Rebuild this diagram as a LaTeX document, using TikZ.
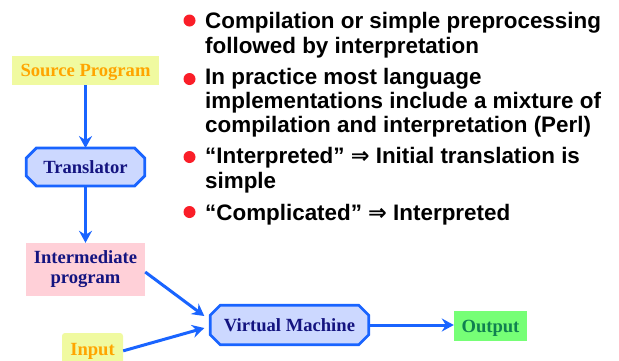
\documentclass[tikz,border=0pt]{standalone}
\usepackage{fontspec}
\setmainfont{Liberation Serif}
\newfontfamily\arialfont{Liberation Sans}
\newfontfamily\dejafont{DejaVu Sans}
\usetikzlibrary{arrows.meta,backgrounds}
\definecolor{lineblue}{RGB}{25,100,255}
\definecolor{boxblue}{RGB}{204,216,255}
\definecolor{navy}{RGB}{20,20,128}
\definecolor{srcyellow}{RGB}{240,250,160}
\definecolor{srcorange}{RGB}{255,165,0}
\definecolor{pinkfill}{RGB}{255,208,216}
\definecolor{greenfill}{RGB}{118,255,118}
\definecolor{greentext}{RGB}{16,128,80}
\definecolor{bulletred}{RGB}{250,30,40}
\newcommand{\implarrow}{{\dejafont\bfseries ⇒}}
\newcommand{\octdraw}[1]{%
  \filldraw[octline] ([xshift=10pt]#1.north west) -- ([xshift=-10pt]#1.north east)
    -- ([yshift=-10pt]#1.north east) -- ([yshift=10pt]#1.south east)
    -- ([xshift=-10pt]#1.south east) -- ([xshift=10pt]#1.south west)
    -- ([yshift=10pt]#1.south west) -- ([yshift=-10pt]#1.north west) -- cycle;}
\begin{document}
\begin{tikzpicture}[x=1pt,y=-1pt,
 boxfont/.style={font=\fontsize{18.6}{20}\selectfont\bfseries},
 plainbox/.style={boxfont, inner sep=0pt, align=center},
 onebox/.style={plainbox, text height=12.3pt, text depth=0pt},
 octbox/.style={onebox, text=navy},
 octline/.style={draw=lineblue, line width=2.8pt, fill=boxblue, line join=miter},
 flow/.style={draw=lineblue, line width=3pt, -{Stealth[length=12pt,width=13pt,inset=4pt]}},
 bullettext/.style={font=\arialfont\fontsize{22.4}{24}\selectfont\bfseries, anchor=base west, inner sep=0pt},
 bulletdot/.style={circle, fill=bulletred, minimum size=12pt, inner sep=0pt}
]
\useasboundingbox (0,0) rectangle (619,360);
\clip (0,0) rectangle (619,360);

\node[onebox, fill=srcyellow, text=srcorange, minimum width=147pt, minimum height=29pt] (src) at (85.5,70.5) {Source Program};
\node[octbox, minimum width=118pt, minimum height=37.5pt] (trans) at (85.5,167) {Translator};
\node[plainbox, fill=pinkfill, text=navy, minimum width=119pt, minimum height=53pt] (inter) at (85.5,269.5) {Intermediate\\program};
\node[onebox, fill=srcyellow, text=srcorange, rounded corners=3pt, minimum width=61pt, minimum height=32.7pt] (inp) at (92.5,349.35) {Input};
\node[octbox, minimum width=158pt, minimum height=39.2pt] (vm) at (289.5,325) {Virtual Machine};
\node[onebox, fill=greenfill, text=greentext, minimum width=73pt, minimum height=30pt] (out) at (490.5,326) {Output};

\begin{scope}[on background layer]
  \fill[white] (0,0) rectangle (619,360);
  \octdraw{trans}
  \octdraw{vm}
\end{scope}

\draw[flow] (src) -- (trans);
\draw[flow] (trans) -- (inter);
\draw[flow] ([shift={(0,2.5)}]inter.east) -- ([shift={(-6,-9)}]vm.west);
\draw[flow] ([shift={(0,1.5)}]inp.east) -- ([shift={(-6,3)}]vm.west);
\draw[flow] (vm.east) -- (vm.east -| out.west);

\node[bulletdot] (b1) at (189.5,20.5) {};
\node[bulletdot] (b2) at (189.5,79) {};
\node[bulletdot] (b3) at (189.5,157) {};
\node[bulletdot] (b4) at (189.5,212) {};

\node[bullettext] (t1) at (205,28.3) {Compilation or simple preprocessing};
\node[bullettext] (t2) at (205,53.3) {followed by interpretation};
\node[bullettext] (t3) at (205,84.3) {In practice most language};
\node[bullettext] (t4) at (205,108.3) {implementations include a mixture of};
\node[bullettext] (t5) at (205,132.7) {compilation and interpretation (Perl)};
\node[bullettext] (t6) at (205,163.3) {“Interpreted” \implarrow{} Initial translation is};
\node[bullettext] (t7) at (205,188.3) {simple};
\node[bullettext] (t8) at (205,220) {“Complicated” \implarrow{} Interpreted};
\end{tikzpicture}
\end{document}
